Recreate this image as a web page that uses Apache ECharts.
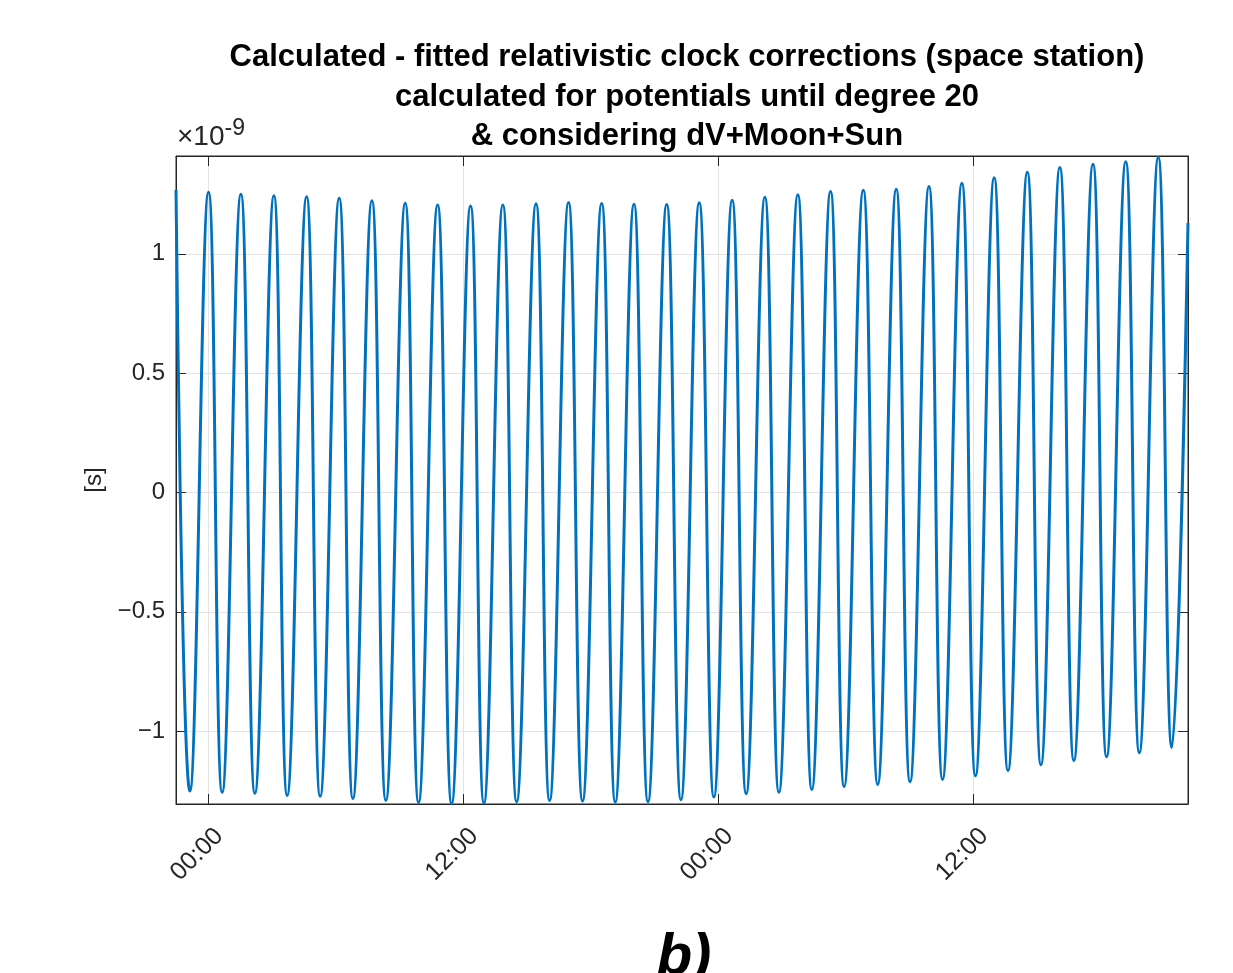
<!DOCTYPE html>
<html>
<head>
<meta charset="utf-8">
<title>Relativistic clock corrections</title>
<script src="https://cdn.jsdelivr.net/npm/echarts@6/dist/echarts.min.js"></script>
<style>
  html, body { margin: 0; padding: 0; background: #fff; }
  #chart { width: 1233px; height: 973px; }
</style>
</head>
<body>
<div id="chart"></div>
<script>
// hours since the first 00:00, values in units of 1e-9 s
var startPoint = [-1.5, 1.268];
var endPoint = [46.12, 1.129];

var peakHours = [0.03, 1.553, 3.106, 4.645, 6.179, 7.718, 9.285, 10.81, 12.36, 13.88,
  15.44, 16.97, 18.53, 20.05, 21.59, 23.12, 24.67, 26.21, 27.76, 29.30,
  30.84, 32.39, 33.93, 35.48, 37.00, 38.56, 40.09, 41.65, 43.19, 44.72];
var peakValues = [1.258, 1.250, 1.243, 1.239, 1.233, 1.223, 1.212, 1.205, 1.201, 1.205,
  1.210, 1.215, 1.211, 1.208, 1.207, 1.214, 1.225, 1.237, 1.248, 1.261,
  1.266, 1.271, 1.282, 1.296, 1.319, 1.342, 1.362, 1.375, 1.386, 1.404];

var troughHours = [-0.847, 0.673, 2.212, 3.732, 5.285, 6.824, 8.376, 9.915, 11.47, 12.99,
  14.53, 16.08, 17.63, 19.17, 20.71, 22.26, 23.81, 25.33, 26.87, 28.42,
  29.94, 31.52, 33.04, 34.57, 36.12, 37.65, 39.20, 40.75, 42.29, 43.83, 45.36];
var troughValues = [-1.251, -1.256, -1.260, -1.269, -1.273, -1.282, -1.290, -1.299, -1.303, -1.301,
  -1.296, -1.290, -1.293, -1.297, -1.296, -1.287, -1.276, -1.262, -1.256, -1.244,
  -1.232, -1.223, -1.212, -1.202, -1.187, -1.165, -1.141, -1.123, -1.107, -1.090, -1.068];

var xTicks = [0, 12, 24, 36];
var yTicks = [-1, -0.5, 0, 0.5, 1];

var titleLines = [
  'Calculated - fitted relativistic clock corrections (space station)',
  'calculated for potentials until degree 20',
  '& considering dV+Moon+Sun'
];

// interleave troughs and peaks along time
var seriesData = [startPoint];
for (var i = 0; i < troughHours.length; i++) {
  seriesData.push([troughHours[i], troughValues[i]]);
  if (i < peakHours.length) seriesData.push([peakHours[i], peakValues[i]]);
}
seriesData.push(endPoint);

var font = '"Liberation Sans", Arial, Helvetica, sans-serif';
var axisGray = '#262626';
var gridGray = '#e3e3e3';

var chart = echarts.init(document.getElementById('chart'));

var option = {
  backgroundColor: '#ffffff',
  animation: false,
  title: {
    text: titleLines.join('\n'),
    left: 682,
    textAlign: 'center',
    top: 33,
    textStyle: {
      fontFamily: font,
      fontWeight: 'bold',
      fontSize: 31,
      lineHeight: 39.5,
      color: '#000'
    }
  },
  grid: {
    left: 176,
    top: 156,
    right: 45,
    bottom: 169,
    show: true,
    borderColor: axisGray,
    borderWidth: 1
  },
  xAxis: [{
    type: 'value',
    min: -1.5,
    max: 46.12,
    axisLine: { show: true, onZero: false, lineStyle: { color: axisGray } },
    axisTick: { show: true, inside: true, length: 10, customValues: xTicks, lineStyle: { color: axisGray } },
    axisLabel: {
      customValues: xTicks,
      rotate: 45,
      margin: 17,
      verticalAlign: 'top',
      lineHeight: 32,
      fontFamily: font,
      fontSize: 25,
      color: axisGray,
      formatter: function (v) { return (v % 24 === 0) ? '00:00' : '12:00'; }
    },
    splitLine: { show: true, lineStyle: { color: gridGray } }
  }, {
    type: 'value',
    position: 'top',
    min: -1.5,
    max: 46.12,
    axisLine: { show: true, onZero: false, lineStyle: { color: axisGray } },
    axisTick: { show: true, inside: true, length: 10, customValues: xTicks, lineStyle: { color: axisGray } },
    axisLabel: { show: false },
    splitLine: { show: false }
  }],
  yAxis: [{
    type: 'value',
    min: -1.305,
    max: 1.41,
    name: '[s]',
    nameLocation: 'middle',
    nameRotate: 90,
    nameGap: 67,
    nameTextStyle: { fontFamily: font, fontSize: 24, color: axisGray },
    axisLine: { show: true, onZero: false, lineStyle: { color: axisGray } },
    axisTick: { show: true, inside: true, length: 10, customValues: yTicks, lineStyle: { color: axisGray } },
    axisLabel: {
      customValues: yTicks,
      margin: 11,
      fontFamily: font,
      fontSize: 24,
      color: axisGray,
      formatter: function (v) { return String(v).replace('-', '\u2212'); }
    },
    splitLine: { show: true, lineStyle: { color: gridGray } }
  }, {
    type: 'value',
    position: 'right',
    min: -1.305,
    max: 1.41,
    axisLine: { show: true, onZero: false, lineStyle: { color: axisGray } },
    axisTick: { show: true, inside: true, length: 10, customValues: yTicks, lineStyle: { color: axisGray } },
    axisLabel: { show: false },
    splitLine: { show: false }
  }],
  graphic: [{
    type: 'text',
    left: 177,
    top: 117,
    style: {
      text: '{m|×10}{sup|-9}',
      fill: axisGray,
      rich: {
        m: { fontSize: 28, lineHeight: 40, fontFamily: font, fill: axisGray },
        sup: { fontSize: 23, lineHeight: 20, verticalAlign: 'top', fontFamily: font, fill: axisGray }
      }
    }
  }, {
    type: 'text',
    x: 684,
    y: 958,
    style: {
      text: 'b)',
      fontFamily: font,
      fontSize: 58,
      fontWeight: 'bold',
      fontStyle: 'italic',
      fill: '#000',
      align: 'center',
      verticalAlign: 'middle'
    }
  }],
  series: [{
    type: 'line',
    xAxisIndex: 0,
    yAxisIndex: 0,
    data: seriesData,
    smooth: 0.45,
    showSymbol: false,
    lineStyle: { color: '#0072BD', width: 3 },
    clip: true
  }]
};

chart.setOption(option);

window.onresize = function () {
  chart.resize();
};
</script>
</body>
</html>
